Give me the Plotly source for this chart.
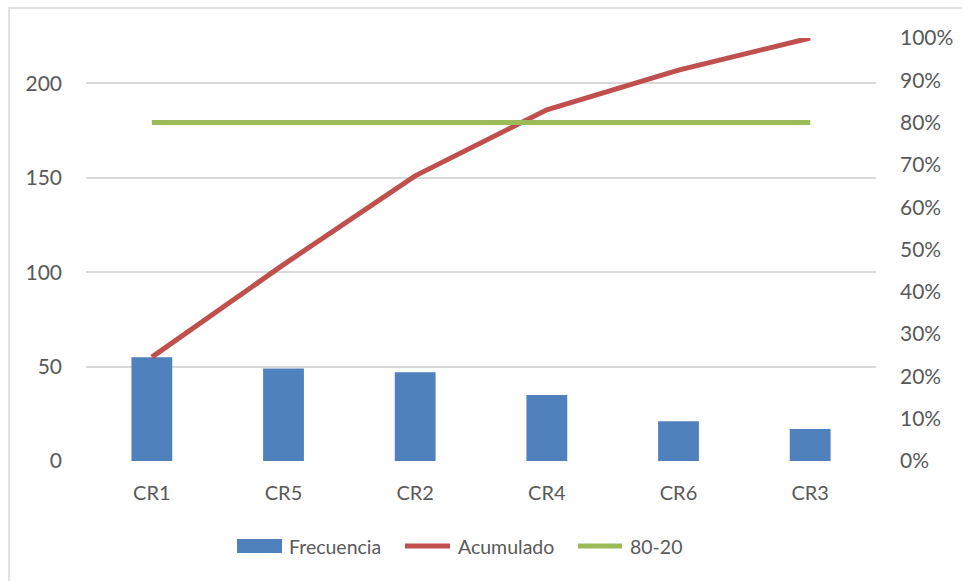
import plotly.graph_objects as go

# Pareto data
categories = ["CR1", "CR5", "CR2", "CR4", "CR6", "CR3"]
frecuencia = [55, 49, 47, 35, 21, 17]
total = sum(frecuencia)
acumulado = []
running = 0
for v in frecuencia:
    running += v
    acumulado.append(running / total)
umbral = [0.8] * len(categories)

left_ticks = [0, 50, 100, 150, 200]
right_ticks = [i / 10 for i in range(11)]
right_labels = [f"{i * 10}%" for i in range(11)]

series_names = ["Frecuencia", "Acumulado", "80-20"]
series_colors = ["#4F81BD", "#C0504D", "#9BBB59"]

font_family = "Lato, 'Open Sans', sans-serif"
text_color = "#595959"

# plot area in pixels
PL, PR, PT, PB = 86, 876, 38, 461
W, H = 962, 581


def px_x(x):
    return (x - PL) / (PR - PL)


def px_y(y):
    return (PB - y) / (PB - PT)


fig = go.Figure()
fig.add_trace(go.Bar(
    x=categories, y=frecuencia, name=series_names[0],
    marker=dict(color=series_colors[0], line=dict(width=0)),
))
fig.add_trace(go.Scatter(
    x=categories, y=acumulado, name=series_names[1], yaxis="y2",
    mode="lines", line=dict(color=series_colors[1], width=5),
))
fig.add_trace(go.Scatter(
    x=categories, y=umbral, name=series_names[2], yaxis="y2",
    mode="lines", line=dict(color=series_colors[2], width=5),
))

# outer chart border
shapes = [dict(type="rect", xref="paper", yref="paper",
               x0=px_x(9), x1=px_x(975), y0=px_y(600), y1=px_y(8),
               line=dict(color="#D9D9D9", width=1.5),
               fillcolor="rgba(0,0,0,0)", layer="below")]

# legend row below the plot
legend_y = 546
swatches = [(237, 282), (403, 452), (576, 624)]
text_x = [287, 456, 628]
annotations = []
for i, (name, color) in enumerate(zip(series_names, series_colors)):
    x0, x1 = swatches[i]
    if i == 0:
        shapes.append(dict(type="rect", xref="paper", yref="paper",
                           x0=px_x(x0), x1=px_x(x1),
                           y0=px_y(legend_y + 7), y1=px_y(legend_y - 7),
                           line=dict(width=0), fillcolor=color))
    else:
        shapes.append(dict(type="line", xref="paper", yref="paper",
                           x0=px_x(x0 + 2), x1=px_x(x1 - 2),
                           y0=px_y(legend_y), y1=px_y(legend_y),
                           line=dict(color=color, width=5)))
    annotations.append(dict(xref="paper", yref="paper",
                            x=px_x(text_x[i]), y=px_y(legend_y),
                            xanchor="left", yanchor="middle",
                            text=name, showarrow=False,
                            font=dict(size=19.5, color=text_color)))

fig.update_layout(
    width=W, height=H,
    margin=dict(l=PL, r=W - PR, t=PT, b=H - PB),
    paper_bgcolor="white", plot_bgcolor="white",
    font=dict(family=font_family, size=20, color=text_color),
    bargap=0.69,
    showlegend=False,
    xaxis=dict(showgrid=False, showline=False, zeroline=False,
               ticks="", ticklabelstandoff=18, tickfont=dict(size=20),
               automargin=False),
    yaxis=dict(range=[0, total], tickvals=left_ticks,
               showgrid=True, gridcolor="#D9D9D9", gridwidth=1.5,
               zeroline=False, showline=False, ticks="",
               ticklabelstandoff=23, tickfont=dict(size=21),
               automargin=False),
    yaxis2=dict(range=[0, 1], overlaying="y", side="right",
                tickvals=right_ticks, ticktext=right_labels,
                showgrid=False, zeroline=False, showline=False, ticks="",
                ticklabelstandoff=23, tickfont=dict(size=21),
                automargin=False),
    shapes=shapes,
    annotations=annotations,
)

fig.write_html("out.html")
